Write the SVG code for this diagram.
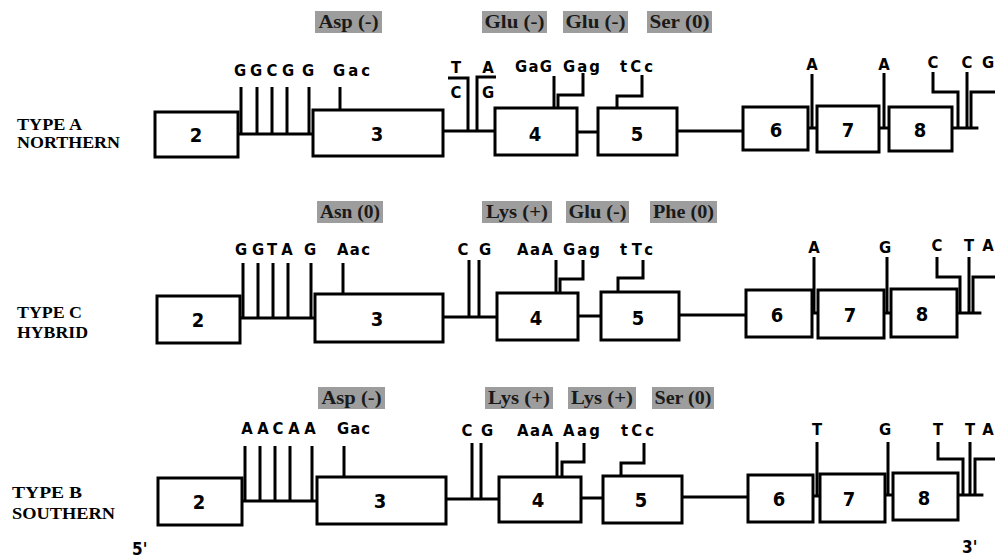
<svg xmlns="http://www.w3.org/2000/svg" width="995" height="558" viewBox="0 0 995 558">
<style>
.bg{fill:#ffffff}
.ex{fill:#ffffff;stroke:#000;stroke-width:3}
.ln{fill:none;stroke:#000;stroke-width:2.8;stroke-linecap:square}
.tk{fill:none;stroke:#000;stroke-width:3}
.num{font-family:"DejaVu Sans Condensed","DejaVu Sans",sans-serif;font-weight:bold;font-size:20px;text-anchor:middle;fill:#000}
.nt{font-family:"DejaVu Sans Condensed","DejaVu Sans",sans-serif;font-weight:bold;font-size:16.5px;text-anchor:middle;fill:#000}
.cd{font-family:"DejaVu Sans Condensed","DejaVu Sans",sans-serif;font-weight:bold;font-size:16.5px;fill:#000}
.aa{fill:#9d9d9d}
.aat{font-family:"Liberation Serif","Times New Roman",serif;font-weight:bold;font-size:19px;text-anchor:middle;fill:#1a1a1a}
.rl{font-family:"Liberation Serif","Times New Roman",serif;font-weight:bold;font-size:17px;fill:#000}
.pr{font-family:"DejaVu Sans Condensed","DejaVu Sans",sans-serif;font-weight:bold;font-size:17px;fill:#000}
</style>
<rect class="bg" x="0" y="0" width="995" height="558"/>

<!-- ================= ROW A ================= -->
<g id="rowA-label">
<text class="rl" x="17" y="130" textLength="65" lengthAdjust="spacingAndGlyphs">TYPE A</text>
<text class="rl" x="17" y="148" textLength="103" lengthAdjust="spacingAndGlyphs">NORTHERN</text>
</g>
<g id="rowA-aa">
<rect class="aa" x="315" y="11" width="67" height="22"/><text class="aat" x="348.5" y="28" textLength="60" lengthAdjust="spacingAndGlyphs">Asp (-)</text>
<rect class="aa" x="482" y="11" width="65" height="22"/><text class="aat" x="514.5" y="28" textLength="60" lengthAdjust="spacingAndGlyphs">Glu (-)</text>
<rect class="aa" x="563" y="11" width="65" height="22"/><text class="aat" x="595.5" y="28" textLength="60" lengthAdjust="spacingAndGlyphs">Glu (-)</text>
<rect class="aa" x="647" y="11" width="65" height="22"/><text class="aat" x="679.5" y="28" textLength="60" lengthAdjust="spacingAndGlyphs">Ser (0)</text>
</g>
<g id="rowA-connectors">
<path class="ln" d="M238,134 H313 M443,131 H495 M577,132 H598 M677,131 H743 M808,128 H817 M879,128 H889 M952,128 H977"/>
<path class="tk" d="M241,87 V134 M257,87 V134 M272,87 V134 M287,87 V134 M309,87 V134"/>
<path class="tk" d="M340,87 V135"/>
<path class="tk" d="M448,78 H468 V131 M496,77 H477 V131"/>
<path class="tk" d="M554,76 V133 M583,73 V95 H558 V133"/>
<path class="tk" d="M642,75 V96 H617 V133"/>
<path class="tk" d="M812,74 V128 M884,73 V128"/>
<path class="tk" d="M933,72 V92 H958 V128 M967,72 V128 M995,92 H971 V128"/>
</g>
<g id="rowA-exon2"><rect class="ex" x="155" y="112" width="83" height="45"/><text class="num" x="196" y="142">2</text></g>
<g id="rowA-exon3"><rect class="ex" x="313" y="110" width="130" height="46"/><text class="num" x="377" y="141">3</text></g>
<g id="rowA-exon4"><rect class="ex" x="495" y="108" width="82" height="47"/><text class="num" x="535" y="141">4</text></g>
<g id="rowA-exon5"><rect class="ex" x="598" y="108" width="79" height="47"/><text class="num" x="637" y="141">5</text></g>
<g id="rowA-exon6"><rect class="ex" x="743" y="107" width="65" height="43"/><text class="num" x="776" y="137">6</text></g>
<g id="rowA-exon7"><rect class="ex" x="817" y="106" width="62" height="46"/><text class="num" x="848" y="137">7</text></g>
<g id="rowA-exon8"><rect class="ex" x="889" y="107" width="63" height="44"/><text class="num" x="920" y="137">8</text></g>
<g id="rowA-text">
<text class="nt" x="240" y="76">G</text><text class="nt" x="256" y="76">G</text><text class="nt" x="272" y="76">C</text><text class="nt" x="288" y="76">G</text><text class="nt" x="308" y="76">G</text>
<text class="cd" x="333" y="76" textLength="37" lengthAdjust="spacing">Gac</text>
<text class="nt" x="456" y="73">T</text><text class="nt" x="456" y="98">C</text>
<text class="nt" x="488" y="73">A</text><text class="nt" x="488" y="98">G</text>
<text class="cd" x="515" y="72" textLength="37" lengthAdjust="spacing">GaG</text>
<text class="cd" x="563" y="72" textLength="37" lengthAdjust="spacing">Gag</text>
<text class="cd" x="620" y="72" textLength="33" lengthAdjust="spacing">tCc</text>
<text class="nt" x="812" y="70">A</text><text class="nt" x="884" y="70">A</text>
<text class="nt" x="933" y="68">C</text><text class="nt" x="967" y="68">C</text><text class="nt" x="988" y="68">G</text>
</g>

<!-- ================= ROW C ================= -->
<g id="rowC-label">
<text class="rl" x="17" y="318" textLength="65" lengthAdjust="spacingAndGlyphs">TYPE C</text>
<text class="rl" x="17" y="338" textLength="71" lengthAdjust="spacingAndGlyphs">HYBRID</text>
</g>
<g id="rowC-aa">
<rect class="aa" x="317" y="201" width="66" height="22"/><text class="aat" x="350" y="218" textLength="60" lengthAdjust="spacingAndGlyphs">Asn (0)</text>
<rect class="aa" x="482" y="201" width="70" height="22"/><text class="aat" x="517" y="218" textLength="62" lengthAdjust="spacingAndGlyphs">Lys (+)</text>
<rect class="aa" x="566" y="201" width="63" height="22"/><text class="aat" x="597.5" y="218" textLength="58" lengthAdjust="spacingAndGlyphs">Glu (-)</text>
<rect class="aa" x="650" y="201" width="67" height="22"/><text class="aat" x="683.5" y="218" textLength="61" lengthAdjust="spacingAndGlyphs">Phe (0)</text>
</g>
<g id="rowC-connectors">
<path class="ln" d="M240,318 H315 M443,317 H497 M578,316 H601 M679,315 H746 M812,313 H818 M884,313 H891 M957,313 H980"/>
<path class="tk" d="M243,263 V318 M258,263 V318 M273,263 V318 M288,263 V318 M311,263 V318"/>
<path class="tk" d="M343,263 V319"/>
<path class="tk" d="M469,260 V317 M479,260 V317"/>
<path class="tk" d="M556,260 V317 M583,260 V279 H560 V317"/>
<path class="tk" d="M643,260 V278 H618 V317"/>
<path class="tk" d="M814,257 V313 M887,257 V313"/>
<path class="tk" d="M937,257 V277 H960 V313 M969,257 V313 M995,277 H973 V313"/>
</g>
<g id="rowC-exon2"><rect class="ex" x="157" y="296" width="83" height="47"/><text class="num" x="198" y="327">2</text></g>
<g id="rowC-exon3"><rect class="ex" x="315" y="294" width="128" height="48"/><text class="num" x="377" y="326">3</text></g>
<g id="rowC-exon4"><rect class="ex" x="497" y="293" width="81" height="47"/><text class="num" x="536" y="325">4</text></g>
<g id="rowC-exon5"><rect class="ex" x="601" y="292" width="78" height="48"/><text class="num" x="638" y="325">5</text></g>
<g id="rowC-exon6"><rect class="ex" x="746" y="290" width="66" height="47"/><text class="num" x="777" y="322">6</text></g>
<g id="rowC-exon7"><rect class="ex" x="818" y="290" width="66" height="48"/><text class="num" x="850" y="322">7</text></g>
<g id="rowC-exon8"><rect class="ex" x="891" y="289" width="66" height="48"/><text class="num" x="922" y="321">8</text></g>
<g id="rowC-text">
<text class="nt" x="241" y="255">G</text><text class="nt" x="258" y="255">G</text><text class="nt" x="272" y="255">T</text><text class="nt" x="287" y="255">A</text><text class="nt" x="310" y="255">G</text>
<text class="cd" x="337" y="255" textLength="33" lengthAdjust="spacing">Aac</text>
<text class="nt" x="463" y="255">C</text><text class="nt" x="485" y="255">G</text>
<text class="cd" x="517" y="255" textLength="36" lengthAdjust="spacing">AaA</text>
<text class="cd" x="563" y="255" textLength="37" lengthAdjust="spacing">Gag</text>
<text class="cd" x="620" y="255" textLength="33" lengthAdjust="spacing">tTc</text>
<text class="nt" x="814" y="253">A</text><text class="nt" x="885" y="253">G</text>
<text class="nt" x="937" y="251">C</text><text class="nt" x="969" y="251">T</text><text class="nt" x="988" y="251">A</text>
</g>

<!-- ================= ROW B ================= -->
<g id="rowB-label">
<text class="rl" x="12" y="498" textLength="70" lengthAdjust="spacingAndGlyphs">TYPE  B</text>
<text class="rl" x="12" y="519" textLength="103" lengthAdjust="spacingAndGlyphs">SOUTHERN</text>
</g>
<g id="rowB-aa">
<rect class="aa" x="318" y="387" width="67" height="22"/><text class="aat" x="351.5" y="404" textLength="60" lengthAdjust="spacingAndGlyphs">Asp (-)</text>
<rect class="aa" x="485" y="387" width="68" height="22"/><text class="aat" x="519" y="404" textLength="62" lengthAdjust="spacingAndGlyphs">Lys (+)</text>
<rect class="aa" x="568" y="387" width="68" height="22"/><text class="aat" x="602" y="404" textLength="62" lengthAdjust="spacingAndGlyphs">Lys (+)</text>
<rect class="aa" x="652" y="387" width="62" height="22"/><text class="aat" x="683" y="404" textLength="57" lengthAdjust="spacingAndGlyphs">Ser (0)</text>
</g>
<g id="rowB-connectors">
<path class="ln" d="M242,501 H317 M446,499 H499 M581,498 H603 M682,497 H748 M813,496 H820 M885,495 H893 M958,495 H982"/>
<path class="tk" d="M245,446 V501 M260,446 V501 M275,446 V501 M290,446 V501 M312,446 V501"/>
<path class="tk" d="M344,446 V502"/>
<path class="tk" d="M472,443 V499 M481,443 V499"/>
<path class="tk" d="M557,442 V500 M584,443 V462 H562 V500"/>
<path class="tk" d="M644,443 V463 H621 V499"/>
<path class="tk" d="M817,442 V497 M888,442 V495"/>
<path class="tk" d="M938,442 V459 H963 V495 M970,442 V495 M995,459 H975 V495"/>
</g>
<g id="rowB-exon2"><rect class="ex" x="158" y="478" width="84" height="47"/><text class="num" x="199" y="509">2</text></g>
<g id="rowB-exon3"><rect class="ex" x="317" y="477" width="129" height="47"/><text class="num" x="380" y="508">3</text></g>
<g id="rowB-exon4"><rect class="ex" x="499" y="477" width="82" height="45"/><text class="num" x="538" y="507">4</text></g>
<g id="rowB-exon5"><rect class="ex" x="603" y="476" width="79" height="47"/><text class="num" x="641" y="507">5</text></g>
<g id="rowB-exon6"><rect class="ex" x="748" y="475" width="65" height="47"/><text class="num" x="779" y="506">6</text></g>
<g id="rowB-exon7"><rect class="ex" x="820" y="474" width="65" height="48"/><text class="num" x="849" y="506">7</text></g>
<g id="rowB-exon8"><rect class="ex" x="893" y="473" width="65" height="47"/><text class="num" x="924" y="505">8</text></g>
<g id="rowB-text">
<text class="nt" x="247" y="434">A</text><text class="nt" x="263" y="434">A</text><text class="nt" x="278" y="434">C</text><text class="nt" x="294" y="434">A</text><text class="nt" x="310" y="434">A</text>
<text class="cd" x="337" y="434" textLength="33" lengthAdjust="spacing">Gac</text>
<text class="nt" x="467" y="436">C</text><text class="nt" x="487" y="436">G</text>
<text class="cd" x="517" y="436" textLength="36" lengthAdjust="spacing">AaA</text>
<text class="cd" x="563" y="436" textLength="37" lengthAdjust="spacing">Aag</text>
<text class="cd" x="621" y="436" textLength="33" lengthAdjust="spacing">tCc</text>
<text class="nt" x="817" y="435">T</text><text class="nt" x="885" y="435">G</text>
<text class="nt" x="938" y="435">T</text><text class="nt" x="970" y="435">T</text><text class="nt" x="988" y="435">A</text>
</g>

<g id="ends">
<text class="pr" x="132" y="555">5'</text>
<text class="pr" x="962" y="553">3'</text>
</g>
</svg>
